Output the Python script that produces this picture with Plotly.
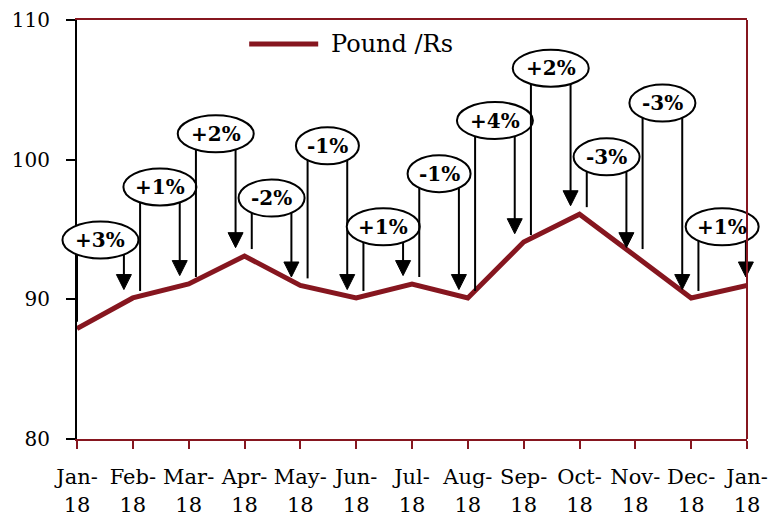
import plotly.graph_objects as go

# Monthly Pound / Rupee rate
months = ["Jan-<br>18", "Feb-<br>18", "Mar-<br>18", "Apr-<br>18", "May-<br>18",
          "Jun-<br>18", "Jul-<br>18", "Aug-<br>18", "Sep-<br>18", "Oct-<br>18",
          "Nov-<br>18", "Dec-<br>18", "Jan-<br>18"]
pound_rs = [87.9, 90.1, 91.1, 93.1, 91.0, 90.1, 91.1, 90.1, 94.1, 96.1, 93.1, 90.1, 91.0]
y_ticks = [80, 90, 100, 110]

# Vertical placement (in rate units) of each month-on-month change bubble
bubble_levels = [94.25, 98.05, 101.85, 97.25, 101.0, 95.2,
                 99.0, 102.8, 106.55, 100.2, 104.05, 95.2]

MAROON = "#86161F"
FONT = "DejaVu Serif"
X0, X1 = 0, 12
Y0, Y1 = 80, 110
PLOT_W, PLOT_H = 670, 419  # plot area size in pixels


def px(x):
    return (x - X0) / (X1 - X0)


def py(y):
    return (y - Y0) / (Y1 - Y0)


xs = list(range(len(months)))

fig = go.Figure()
fig.add_trace(go.Scatter(
    x=xs, y=pound_rs, mode="lines", name="Pound /Rs",
    line=dict(color=MAROON, width=5), showlegend=False,
))

shapes = []
annotations = []

# Change bubbles: two leader lines, the right one ending in an arrow
for i in range(1, len(pound_rs)):
    prev, cur = pound_rs[i - 1], pound_rs[i]
    pct = (cur - prev) / prev * 100
    label = ("+" if pct > 0 else "-") + f"{abs(round(pct))}%"

    lx = i - 1 + 0.13 if i > 1 else 0.0
    rx = i - 0.16 if i < len(pound_rs) - 1 else X1 - 0.02
    cx = (lx + rx) / 2
    cy = bubble_levels[i - 1]

    tip = py(cur + 0.6)
    head_h = 15 / PLOT_H
    head_w = 7.5 / PLOT_W

    shapes.append(dict(type="line", xref="paper", yref="paper",
                       x0=px(lx), x1=px(lx), y0=py(cy), y1=py(prev + 0.5),
                       line=dict(color="black", width=2)))
    shapes.append(dict(type="line", xref="paper", yref="paper",
                       x0=px(rx), x1=px(rx), y0=py(cy), y1=tip + head_h * 0.5,
                       line=dict(color="black", width=2)))
    shapes.append(dict(type="path", xref="paper", yref="paper",
                       path=f"M {px(rx) - head_w},{tip + head_h} L {px(rx) + head_w},{tip + head_h} "
                            f"L {px(rx)},{tip} Z",
                       fillcolor="black", line=dict(color="black", width=1)))

    w = (66 if label[0] == "-" else 76) - (3 if label[1] == "1" else 0)
    h = 37
    shapes.append(dict(type="circle", xref="paper", yref="paper",
                       x0=px(cx) - w / 2 / PLOT_W, x1=px(cx) + w / 2 / PLOT_W,
                       y0=py(cy) - h / 2 / PLOT_H, y1=py(cy) + h / 2 / PLOT_H,
                       fillcolor="white", line=dict(color="black", width=2)))
    annotations.append(dict(xref="paper", yref="paper", x=px(cx), y=py(cy),
                            text=f"<b>{label}</b>", showarrow=False,
                            xanchor="center", yanchor="middle",
                            font=dict(family=FONT, size=20, color="black")))

# Right border of the plot frame
shapes.append(dict(type="line", xref="paper", yref="paper", x0=1, x1=1, y0=0, y1=1,
                   line=dict(color=MAROON, width=2)))

# Legend key
shapes.append(dict(type="line", xref="paper", yref="paper",
                   x0=0.257, x1=0.360, y0=0.943, y1=0.943,
                   line=dict(color=MAROON, width=5)))
annotations.append(dict(xref="paper", yref="paper", x=0.376, y=0.943,
                        text="Pound /Rs", showarrow=False,
                        xanchor="left", yanchor="middle",
                        font=dict(family=FONT, size=24, color="black")))

fig.update_layout(
    width=769, height=517,
    margin=dict(l=77, r=22, t=20, b=78),
    paper_bgcolor="white", plot_bgcolor="white",
    showlegend=False,
    shapes=shapes, annotations=annotations,
    font=dict(family=FONT, size=20, color="black"),
    xaxis=dict(range=[X0, X1], tickmode="array", tickvals=xs, ticktext=months,
               showline=True, linecolor=MAROON, linewidth=2, mirror=True,
               ticks="outside", tickcolor=MAROON, tickwidth=2, ticklen=8,
               showgrid=False, zeroline=False, automargin=False,
               ticklabelstandoff=10,
               tickfont=dict(family=FONT, size=21, color="black")),
    yaxis=dict(range=[Y0, Y1], tickmode="array", tickvals=y_ticks,
               showline=True, linecolor="black", linewidth=2,
               ticks="outside", tickcolor="black", tickwidth=2, ticklen=9,
               showgrid=False, zeroline=False, ticklabelstandoff=12,
               automargin=False,
               tickfont=dict(family=FONT, size=20, color="black")),
)

fig.write_html("out.html")
